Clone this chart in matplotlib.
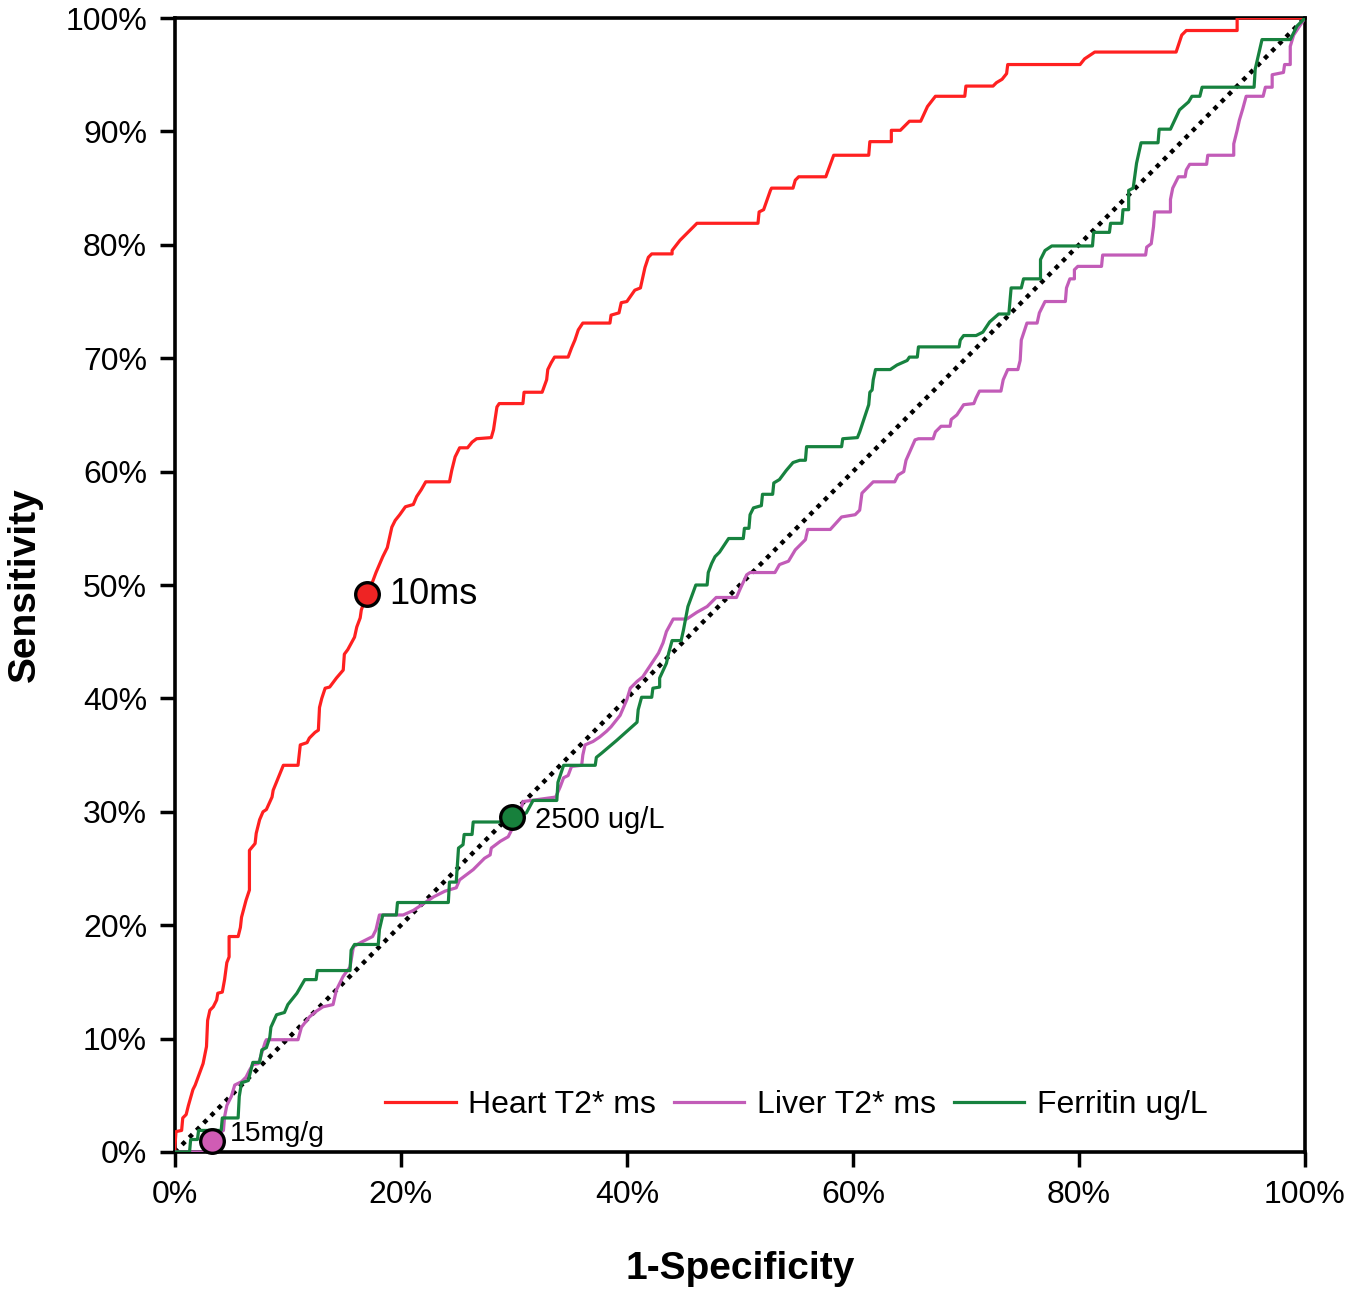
import matplotlib.pyplot as plt
from matplotlib.ticker import PercentFormatter

plt.rcParams["font.family"] = ["Liberation Sans", "DejaVu Sans"]

# ROC curves (1-specificity %, sensitivity %)
heart_x = [0, 0, 0.1, 0.6, 0.7, 1.0, 1.2, 1.6, 1.8, 2.2, 2.5, 2.8, 2.9, 3.1, 3.4, 3.7, 3.8, 4.2, 4.4, 4.6,
           4.8, 4.8, 5.6, 5.8, 5.9, 6.3, 6.6, 6.6, 7.1, 7.2, 7.5, 7.8, 8.1, 8.6, 8.7, 9.6, 10.9, 11.1, 11.7,
           11.9, 12.4, 12.7, 12.8, 13.0, 13.3, 13.7, 14.3, 14.9, 15.0, 15.3, 15.9, 16.1, 16.4, 16.5, 17.0,
           17.5, 17.8, 18.4, 18.8, 19.2, 19.5, 19.9, 20.4, 21.1, 21.4, 21.8, 22.2, 24.3, 24.5, 24.8, 25.2,
           25.9, 26.3, 26.7, 28.0, 28.2, 28.5, 28.7, 30.8, 30.9, 32.5, 32.9, 33.0, 33.3, 33.6, 34.8, 35.1,
           35.4, 35.7, 36.1, 38.5, 38.6, 39.3, 39.5, 40.0, 40.7, 41.2, 41.4, 41.6, 41.9, 42.2, 44.0, 44.0,
           44.7, 45.4, 46.2, 51.6, 51.7, 52.1, 52.7, 52.8, 54.7, 54.9, 55.2, 57.6, 58.3, 61.4, 61.5, 63.4,
           63.4, 64.2, 65.0, 66.0, 66.6, 67.3, 69.9, 70.0, 72.4, 72.7, 73.2, 73.6, 73.7, 80.1, 80.5, 81.4,
           88.6, 88.8, 89.1, 89.5, 94.0, 94.0, 100]
heart_y = [0, 0.4, 1.8, 1.9, 3.0, 3.3, 4.1, 5.5, 5.9, 7.0, 7.8, 9.3, 11.6, 12.5, 12.8, 13.4, 14.0, 14.1, 15.2,
           16.7, 17.2, 19.0, 19.0, 19.8, 20.7, 22.2, 23.1, 26.6, 27.2, 28.1, 29.3, 30.0, 30.2, 31.3, 31.9,
           34.1, 34.1, 35.9, 36.1, 36.5, 37.0, 37.2, 39.2, 40.0, 40.9, 41.0, 41.8, 42.5, 43.9, 44.3, 45.4,
           46.3, 47.1, 47.8, 49.2, 50.3, 51.1, 52.5, 53.3, 55.1, 55.7, 56.2, 56.9, 57.1, 57.8, 58.4, 59.1,
           59.1, 60.1, 61.3, 62.1, 62.1, 62.6, 62.9, 63.0, 63.7, 65.7, 66.0, 66.0, 67.0, 67.0, 68.1, 69.0,
           69.6, 70.1, 70.1, 70.9, 71.6, 72.5, 73.1, 73.1, 73.8, 74.0, 74.9, 75.0, 76.0, 76.2, 77.1, 78.0,
           78.9, 79.2, 79.2, 79.5, 80.4, 81.1, 81.9, 81.9, 82.9, 83.1, 84.8, 85.0, 85.0, 85.7, 86.0, 86.0,
           87.9, 87.9, 89.1, 89.1, 90.1, 90.1, 90.9, 90.9, 92.2, 93.1, 93.1, 94.0, 94.0, 94.3, 94.6, 95.1,
           95.9, 95.9, 96.4, 97.0, 97.0, 97.6, 98.5, 98.9, 98.9, 100, 100]

liver_x = [0, 3.0, 3.1, 4.3, 4.4, 4.6, 5.0, 5.3, 5.9, 6.3, 6.6, 6.9, 7.4, 8.0, 8.1, 10.9, 11.2, 11.9, 12.5,
           13.1, 14.0, 14.3, 14.9, 15.5, 15.8, 16.5, 17.5, 17.8, 18.1, 20.2, 21.1, 22.0, 22.9, 23.9, 24.9,
           25.2, 26.4, 27.4, 27.9, 28.0, 28.8, 29.5, 29.8, 30.4, 30.8, 33.7, 34.1, 34.4, 34.8, 35.1, 36.0,
           36.1, 36.3, 37.0, 37.6, 38.2, 38.6, 39.4, 40.0, 40.3, 40.9, 41.4, 42.0, 42.8, 43.2, 43.5, 44.1,
           45.3, 46.2, 47.1, 47.9, 49.7, 50.0, 50.6, 50.9, 53.1, 53.5, 54.3, 54.9, 55.8, 56.0, 58.0, 59.0,
           60.2, 60.6, 60.8, 61.8, 63.7, 64.0, 64.5, 64.7, 65.5, 65.8, 67.1, 67.3, 67.8, 68.6, 68.7, 69.2,
           69.8, 70.7, 70.9, 71.2, 73.1, 73.3, 73.7, 74.6, 74.8, 74.9, 75.4, 76.3, 76.5, 77.0, 78.8, 78.9,
           79.2, 79.6, 79.6, 79.9, 82.0, 82.1, 85.9, 86.0, 86.4, 86.6, 86.7, 88.1, 88.1, 88.3, 88.8, 89.4,
           89.5, 89.8, 91.3, 91.4, 93.7, 93.7, 94.0, 94.2, 94.5, 94.8, 96.3, 96.5, 97.1, 97.1, 98.1, 98.2,
           98.7, 98.7, 99.0, 99.4, 100]
liver_y = [0, 0, 1.1, 1.9, 3.1, 4.1, 4.9, 5.9, 6.2, 6.6, 7.2, 7.7, 7.8, 9.7, 9.9, 9.9, 11.0, 11.9, 12.4,
           12.8, 13.0, 14.3, 15.5, 16.3, 18.1, 18.5, 19.0, 19.6, 20.9, 20.9, 21.3, 21.9, 22.5, 23.0, 23.3,
           24.0, 24.9, 25.9, 26.2, 26.8, 27.4, 27.8, 28.4, 29.3, 30.9, 31.3, 32.2, 33.0, 33.2, 34.0, 34.1,
           35.0, 35.9, 36.2, 36.6, 37.1, 37.5, 38.5, 39.9, 40.9, 41.5, 41.9, 42.8, 44.0, 44.9, 45.9, 47.0,
           47.0, 47.6, 48.1, 48.9, 48.9, 49.6, 50.9, 51.1, 51.1, 51.8, 52.1, 53.1, 54.0, 54.9, 54.9, 56.0,
           56.2, 56.6, 58.1, 59.1, 59.1, 59.7, 60.0, 61.0, 62.8, 62.9, 62.9, 63.5, 64.0, 64.0, 64.6, 65.0,
           65.9, 66.0, 66.5, 67.1, 67.1, 68.1, 69.0, 69.0, 69.8, 71.6, 73.1, 73.1, 74.0, 75.0, 75.0, 76.2,
           77.0, 77.0, 77.8, 78.1, 78.1, 79.1, 79.1, 79.8, 80.1, 81.6, 82.9, 82.9, 84.0, 85.0, 86.0, 86.0,
           86.6, 87.1, 87.1, 87.9, 87.9, 88.9, 90.1, 91.0, 92.0, 93.1, 93.1, 93.9, 93.9, 95.0, 95.2, 95.9,
           95.9, 97.5, 98.5, 99.1, 100]

ferritin_x = [0, 1.3, 1.4, 2.0, 2.1, 4.1, 4.2, 5.6, 5.7, 5.9, 6.5, 6.9, 7.5, 7.7, 8.1, 8.4, 8.5, 9.0, 9.7,
              10.0, 10.8, 11.5, 12.5, 12.6, 15.5, 15.6, 15.9, 18.0, 18.1, 18.4, 19.6, 19.7, 24.2, 24.3,
              24.9, 25.1, 25.5, 25.6, 26.3, 26.4, 28.9, 29.8, 31.1, 31.7, 33.8, 33.9, 34.4, 37.2, 37.3,
              37.8, 39.1, 40.9, 41.0, 41.3, 42.2, 42.3, 42.9, 42.9, 43.5, 43.7, 44.0, 44.8, 45.0, 45.4,
              46.1, 47.1, 47.2, 47.5, 47.8, 48.2, 49.0, 50.3, 50.4, 50.8, 50.9, 51.2, 51.9, 52.0, 52.9,
              53.0, 53.5, 54.1, 54.7, 55.3, 55.8, 55.9, 59.0, 59.1, 60.4, 60.6, 61.4, 61.5, 61.7, 61.8,
              62.0, 63.3, 63.9, 64.8, 65.0, 65.7, 65.8, 69.4, 69.5, 69.8, 70.9, 71.5, 72.1, 72.9, 73.8,
              74.0, 74.9, 75.1, 76.6, 76.6, 77.0, 77.6, 81.2, 81.3, 82.7, 82.8, 83.8, 83.9, 84.4, 84.4,
              84.8, 85.1, 85.5, 87.0, 87.1, 88.1, 88.9, 89.7, 90.0, 90.7, 90.9, 95.5, 95.6, 96.2, 98.7,
              98.9, 99.3, 100]
ferritin_y = [0, 0, 1.1, 1.1, 1.9, 1.9, 3.0, 3.0, 4.9, 6.1, 6.3, 7.9, 7.9, 9.0, 9.2, 10.1, 11.0, 12.1, 12.3,
              13.0, 14.0, 15.2, 15.2, 16.0, 16.0, 17.8, 18.3, 18.3, 19.6, 20.9, 20.9, 22.0, 22.0, 23.8,
              23.8, 26.8, 27.1, 28.0, 28.0, 29.1, 29.1, 29.5, 29.9, 31.0, 31.0, 32.6, 34.1, 34.1, 34.8,
              35.2, 36.3, 37.9, 39.0, 40.1, 40.1, 40.9, 41.0, 41.8, 43.1, 44.0, 45.1, 45.1, 46.0, 48.1,
              50.0, 50.0, 51.1, 51.9, 52.5, 52.9, 54.1, 54.1, 55.0, 55.0, 56.2, 56.8, 57.0, 58.0, 58.0,
              59.0, 59.3, 60.1, 60.8, 61.0, 61.0, 62.2, 62.2, 62.9, 63.0, 63.5, 65.9, 67.0, 67.2, 68.1,
              69.0, 69.0, 69.4, 69.8, 70.1, 70.1, 71.0, 71.0, 71.6, 72.0, 72.0, 72.3, 73.2, 73.9, 73.9,
              76.2, 76.2, 77.0, 77.0, 78.7, 79.5, 79.9, 79.9, 81.1, 81.1, 81.9, 81.9, 83.1, 83.1, 84.8,
              85.0, 87.2, 89.0, 89.0, 90.2, 90.2, 91.9, 92.6, 93.1, 93.1, 93.9, 93.9, 95.5, 98.1, 98.1,
              98.5, 99.3, 100]

# cut-off points
cut_labels = ["10ms", "15mg/g", "2500 ug/L"]
cut_x = [17.0, 3.3, 29.8]
cut_y = [49.2, 1.0, 29.5]

red = "#ff2020"
pink = "#c25cb8"
green = "#17823f"

fig = plt.figure(figsize=(13.66, 12.98), dpi=100)
ax = fig.add_axes([0.128, 0.1125, 0.8273, 0.8736])

ax.plot([0, 100], [0, 100], color="black", linestyle=(0, (1, 1.3)), linewidth=3.2, zorder=2)
ax.plot(heart_x, heart_y, color=red, linewidth=2.3, label="Heart T2* ms", zorder=3)
ax.plot(liver_x, liver_y, color=pink, linewidth=2.3, label="Liver T2* ms", zorder=3)
ax.plot(ferritin_x, ferritin_y, color=green, linewidth=2.3, label="Ferritin ug/L", zorder=3)

ax.plot(cut_x[0], cut_y[0], "o", ms=17, mfc="#ee2424", mec="black", mew=2.4, zorder=5, clip_on=False)
ax.plot(cut_x[1], cut_y[1], "o", ms=17, mfc="#d05cb4", mec="black", mew=2.4, zorder=5, clip_on=False)
ax.plot(cut_x[2], cut_y[2], "o", ms=17, mfc="#17803c", mec="black", mew=2.4, zorder=5, clip_on=False)

ax.text(cut_x[0] + 2.0, cut_y[0], cut_labels[0], fontsize=26, va="center", ha="left")
ax.text(cut_x[1] + 1.6, cut_y[1] + 0.6, cut_labels[1], fontsize=20.5, va="center", ha="left")
ax.text(cut_x[2] + 2.1, cut_y[2] - 0.2, cut_labels[2], fontsize=21, va="center", ha="left")

ax.set_xlim(0, 100)
ax.set_ylim(0, 100)
ax.set_xticks(range(0, 101, 20))
ax.set_yticks(range(0, 101, 10))
ax.xaxis.set_major_formatter(PercentFormatter(decimals=0))
ax.yaxis.set_major_formatter(PercentFormatter(decimals=0))
ax.tick_params(direction="out", length=11, width=2.5, labelsize=23, pad=9)
for s in ax.spines.values():
    s.set_linewidth(2.6)

ax.set_xlabel("1-Specificity", fontsize=28, fontweight="bold", labelpad=30)
ax.set_ylabel("Sensitivity", fontsize=28, fontweight="bold", labelpad=16)

ax.legend(loc="center", bbox_to_anchor=(0.55, 0.041), ncol=3, frameon=False, fontsize=23,
          handlelength=2.2, handletextpad=0.4, columnspacing=0.55)

plt.savefig("out.png", dpi=100)
